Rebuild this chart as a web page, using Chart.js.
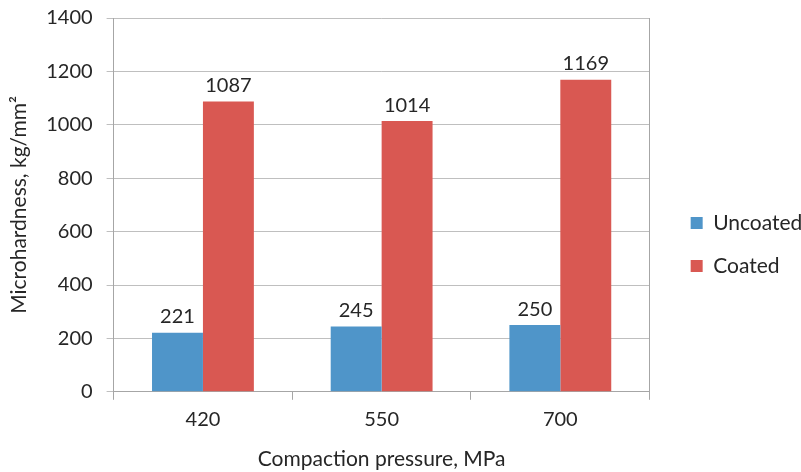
<!DOCTYPE html>
<html>
<head>
<meta charset="utf-8">
<script src="https://cdn.jsdelivr.net/npm/chart.js@4.4.1/dist/chart.umd.min.js"></script>
<style>
  html, body { margin: 0; padding: 0; background: #fff; }
  .wrap { width: 801px; height: 472px; }
</style>
</head>
<body>
<div class="wrap"><canvas id="myChart" width="801" height="472"></canvas></div>
<script>
const pressures = ['420', '550', '700'];
const uncoated = [221, 245, 250];
const coated = [1087, 1014, 1169];
const yTicks = [0, 200, 400, 600, 800, 1000, 1200, 1400];

const ctx = document.getElementById('myChart');
const fontFamily = 'Lato, "Open Sans", sans-serif';
const textColor = '#262626';
const fs = 20;   // numbers
const fsText = 21; // words

// values written above each bar
const barLabels = {
    id: 'barLabels',
    afterDatasetsDraw(chart) {
        const c = chart.ctx;
        c.save();
        c.font = fs + 'px ' + fontFamily;
        c.fillStyle = textColor;
        c.textAlign = 'center';
        c.textBaseline = 'bottom';
        chart.data.datasets.forEach((ds, i) => {
            chart.getDatasetMeta(i).data.forEach((bar, j) => {
                c.fillText(ds.data[j], bar.x, bar.y - 6);
            });
        });
        c.restore();
    }
};

new Chart(ctx, {
    type: 'bar',
    data: {
        labels: pressures,
        datasets: [{
            label: 'Uncoated',
            data: uncoated,
            backgroundColor: '#4F95C9'
        }, {
            label: 'Coated',
            data: coated,
            backgroundColor: '#D95852'
        }]
    },
    options: {
        responsive: false,
        animation: false,
        categoryPercentage: 0.57,
        barPercentage: 1,
        layout: { padding: { top: 0, left: 7, right: 0, bottom: 0 } },
        plugins: {
            legend: {
                position: 'right',
                align: 'center',
                title: {
                    display: true,
                    text: ' ',
                    font: { size: 10 },
                    padding: { top: 5, bottom: 0 }
                },
                labels: {
                    color: textColor,
                    font: { family: fontFamily, size: fsText },
                    boxWidth: 12,
                    boxHeight: 12,
                    padding: 22
                }
            },
            tooltip: { enabled: false }
        },
        scales: {
            x: {
                grid: {
                    offset: true,
                    drawOnChartArea: false,
                    tickLength: 8,
                    color: '#A6A6A6'
                },
                border: { color: '#A6A6A6' },
                ticks: {
                    color: textColor,
                    font: { family: fontFamily, size: fs },
                    padding: 8
                },
                title: {
                    display: true,
                    text: 'Compaction pressure, MPa',
                    color: textColor,
                    font: { family: fontFamily, size: fsText },
                    padding: { top: 7, bottom: 0 }
                }
            },
            y: {
                min: 0,
                max: 1400,
                afterBuildTicks: (axis) => {
                    axis.ticks = yTicks.map((v) => ({ value: v }));
                },
                afterFit: (axis) => { axis.paddingTop = 18; },
                grid: {
                    color: '#BFBFBF',
                    tickLength: 7
                },
                border: { color: '#A6A6A6' },
                ticks: {
                    color: textColor,
                    font: { family: fontFamily, size: fs },
                    padding: 14,
                    callback: (v) => String(v)
                },
                title: {
                    display: true,
                    text: 'Microhardness, kg/mm²',
                    color: textColor,
                    font: { family: fontFamily, size: fsText },
                    padding: { top: 0, bottom: 0 }
                }
            },
            y2: {
                position: 'right',
                min: 0,
                max: 1400,
                ticks: { display: false },
                grid: { drawOnChartArea: false, drawTicks: false, tickLength: 0 },
                border: { color: '#A6A6A6' },
                afterFit: (axis) => { axis.width = 19; axis.paddingTop = 0; }
            }
        }
    },
    plugins: [barLabels]
});
</script>
</body>
</html>
